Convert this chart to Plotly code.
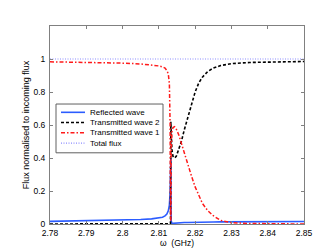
import plotly.graph_objects as go

# frequencies (GHz)
omega = [2.78, 2.79, 2.80, 2.805, 2.808, 2.810, 2.811, 2.8117, 2.8122, 2.8126,
         2.8129, 2.8131, 2.8132, 2.8133, 2.8134, 2.8136, 2.8139, 2.8143, 2.8148,
         2.8155, 2.8162, 2.8170, 2.8180, 2.8190, 2.8200, 2.8210, 2.8220, 2.8235,
         2.8250, 2.8270, 2.8300, 2.8350, 2.8400, 2.8500]

reflected = [0.016, 0.019, 0.023, 0.027, 0.031, 0.036, 0.041, 0.049, 0.060, 0.080,
             0.115, 0.19, 0.30, 0.40, 0.02, 0.004, 0.004, 0.005, 0.006,
             0.007, 0.008, 0.009, 0.009, 0.010, 0.010, 0.011, 0.011, 0.012,
             0.012, 0.013, 0.013, 0.014, 0.014, 0.015]

transmitted2 = [0.0, 0.0, 0.0, 0.0, 0.0, 0.0, 0.0, 0.0, 0.0, 0.0,
                0.0, 0.0, 0.002, 0.62, 0.56, 0.45, 0.41, 0.40, 0.41,
                0.45, 0.50, 0.57, 0.65, 0.73, 0.80, 0.855, 0.89, 0.925,
                0.945, 0.96, 0.972, 0.979, 0.982, 0.985]

transmitted1 = [0.983, 0.980, 0.975, 0.970, 0.965, 0.958, 0.952, 0.945, 0.930, 0.910,
                0.85, 0.60, 0.10, 0.02, 0.45, 0.56, 0.585, 0.59, 0.575,
                0.54, 0.49, 0.43, 0.36, 0.29, 0.225, 0.17, 0.125, 0.08,
                0.05, 0.022, 0.008, 0.003, 0.001, 0.0]

total_flux = [1.0] * len(omega)

series_names = ["Reflected wave", "Transmitted wave 2", "Transmitted wave 1", "Total flux"]

x_ticks = [2.78, 2.79, 2.80, 2.81, 2.82, 2.83, 2.84, 2.85]
x_tick_text = ["2.78", "2.79", "2.8", "2.81", "2.82", "2.83", "2.84", "2.85"]
y_ticks = [0, 0.2, 0.4, 0.6, 0.8, 1.0]
y_tick_text = ["0", "0.2", "0.4", "0.6", "0.8", "1"]

styles = [
    dict(color="#2b5cff", width=1.6),
    dict(color="black", width=1.6, dash="3px,2px"),
    dict(color="#ff1a1a", width=1.5, dash="4px,2px,1.5px,2px"),
    dict(color="#8c8cff", width=1.2, dash="1px,1.5px"),
]

fig = go.Figure()
for name, ys, st in zip(series_names, [reflected, transmitted2, transmitted1, total_flux], styles):
    fig.add_trace(go.Scatter(x=omega, y=ys, mode="lines", name=name,
                             line=st, showlegend=False))

# compact MATLAB-style legend (box, samples and labels in paper coordinates)
W, H = 254.0, 203.0   # plot area size in px
def px(xp):
    return (xp - 42) / W
def py(yp):
    return (221 - yp) / H

shapes = [dict(type="rect", xref="paper", yref="paper",
               x0=px(48), x1=px(155), y0=py(148), y1=py(98),
               fillcolor="white", line=dict(color="#606060", width=1), layer="above")]
annotations = []
row_y = [106.5, 117, 127.5, 138]
for name, st, yy in zip(series_names, styles, row_y):
    shapes.append(dict(type="line", xref="paper", yref="paper",
                       x0=px(53), x1=px(77), y0=py(yy), y1=py(yy),
                       line=st, layer="above"))
    annotations.append(dict(xref="paper", yref="paper", x=px(80), y=py(yy),
                            xanchor="left", yanchor="middle", text=name,
                            showarrow=False, font=dict(size=8, color="black")))

axis_common = dict(showline=True, linecolor="#808080", linewidth=1, mirror="ticks",
                   ticks="inside", ticklen=3, tickcolor="#808080", showgrid=False,
                   zeroline=False, tickfont=dict(size=8.5, color="black"))

fig.update_layout(
    width=328, height=249,
    margin=dict(l=42, r=32, t=18, b=28),
    paper_bgcolor="white", plot_bgcolor="white",
    font=dict(family="Liberation Sans, Arial, sans-serif", size=9, color="black"),
    showlegend=False,
    shapes=shapes,
    annotations=annotations,
    xaxis=dict(range=[2.78, 2.85], tickvals=x_ticks, ticktext=x_tick_text,
               ticklabelstandoff=1,
               title=dict(text="ω  (GHz)", font=dict(size=8.5), standoff=1),
               **axis_common),
    yaxis=dict(range=[0, 1.2], tickvals=y_ticks, ticktext=y_tick_text,
               ticklabelstandoff=2,
               title=dict(text="Flux normalised to incoming flux", font=dict(size=9), standoff=2),
               **axis_common),
)

fig.write_html("out.html")
